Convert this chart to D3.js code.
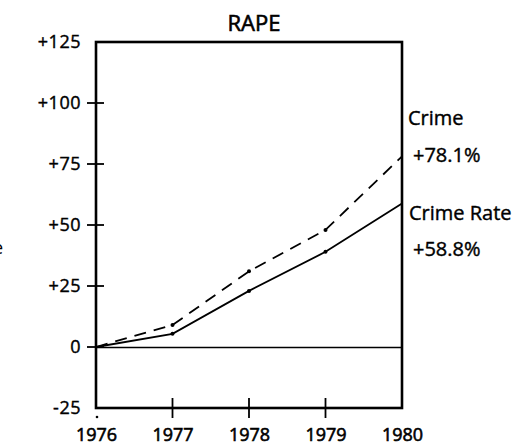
<!DOCTYPE html>
<html><head><meta charset="utf-8">
<script src="https://cdn.jsdelivr.net/npm/d3@7"></script>
<style>html,body{margin:0;padding:0;background:#fff;} svg{display:block;}</style>
</head><body>
<svg id="c" width="524" height="445"></svg>
<script>
const years = [1976, 1977, 1978, 1979, 1980];
const crime = [0, 9, 31, 48, 78.1];
const crimeRate = [0, 5.4, 23, 39, 58.8];
const yTicks = [-25, 0, 25, 50, 75, 100, 125];
const yTickLabels = ["-25", "0", "+25", "+50", "+75", "+100", "+125"];
const title = "RAPE";
const seriesNames = ["Crime", "Crime Rate"];
const endLabels = ["+78.1%", "+58.8%"];

const svg = d3.select("#c");
const font = "'Open Sans', Lato, sans-serif";
const L = 96, R = 402, T = 42, B = 408;
const x = d3.scaleLinear().domain([1976, 1980]).range([L, R]);
const y = d3.scaleLinear().domain([-25, 125]).range([B, T]);

function heavy(sel, w) { return sel.attr("font-weight", 400).attr("stroke", "#000").attr("stroke-width", w).attr("fill", "#000"); }

// title
heavy(svg.append("text").attr("x", 254).attr("y", 31).attr("text-anchor", "middle")
  .attr("font-family", font).attr("font-size", 22), 0.6).text(title);

// zero line
svg.append("line").attr("x1", L).attr("x2", R).attr("y1", Math.round(y(0)) + 0.5).attr("y2", Math.round(y(0)) + 0.5)
  .attr("stroke", "#000").attr("stroke-width", 1.6);

// frame
svg.append("rect").attr("x", L).attr("y", T).attr("width", R - L).attr("height", B - T)
  .attr("fill", "none").attr("stroke", "#000").attr("stroke-width", 2.6);

// y axis
const yAxis = d3.axisLeft(y).tickValues(yTicks).tickSize(0).tickFormat((d, i) => yTickLabels[i]);
const ya = svg.append("g").attr("transform", `translate(${L},0)`).call(yAxis);
ya.select(".domain").remove();
heavy(ya.selectAll("text").attr("x", -15).attr("font-family", font).attr("font-size", 18)
  .attr("letter-spacing", 0.5), 0.4);
svg.selectAll(".ytick").data(yTicks.filter(d => d > -25 && d < 125)).enter().append("line")
  .attr("x1", L - 9).attr("x2", L + 8).attr("y1", d => y(d)).attr("y2", d => y(d))
  .attr("stroke", "#000").attr("stroke-width", 1.8);

// x axis
const xAxis = d3.axisBottom(x).tickValues(years).tickSize(0).tickFormat(d3.format("d"));
const xa = svg.append("g").attr("transform", `translate(0,${B})`).call(xAxis);
xa.select(".domain").remove();
heavy(xa.selectAll("text").attr("y", 33).attr("dy", 0).attr("font-family", font).attr("font-size", 18), 0.6);
svg.selectAll(".xtick").data(years.slice(1, 4)).enter().append("line")
  .attr("x1", d => x(d)).attr("x2", d => x(d)).attr("y1", B - 10).attr("y2", B + 10)
  .attr("stroke", "#000").attr("stroke-width", 1.8);
svg.append("circle").attr("cx", x(1976) + 1).attr("cy", B + 9).attr("r", 1.3).attr("fill", "#000");

// lines
const line = d3.line().x((d, i) => x(years[i])).y(d => y(d));
svg.append("path").datum(crime).attr("d", line).attr("fill", "none")
  .attr("stroke", "#000").attr("stroke-width", 1.8).attr("stroke-dasharray", "12,8");
svg.append("path").datum(crimeRate).attr("d", line).attr("fill", "none")
  .attr("stroke", "#000").attr("stroke-width", 1.8);
[crime, crimeRate].forEach(s => {
  svg.selectAll(null).data(s.slice(1, 4)).enter().append("circle")
    .attr("cx", (d, i) => x(years[i + 1])).attr("cy", d => y(d)).attr("r", 2).attr("fill", "#000");
});

// right labels
const lbl = [[408, 125, seriesNames[0]], [413, 162, endLabels[0]], [409, 220, seriesNames[1]], [413, 256, endLabels[1]]];
heavy(svg.selectAll(".rl").data(lbl).enter().append("text")
  .attr("x", d => d[0]).attr("y", d => d[1]).attr("font-family", font).attr("font-size", 20), 0.4)
  .text(d => d[2]);

// clipped fragment at left edge (as in reference)
svg.append("text").attr("x", -7).attr("y", 254).attr("font-family", font).attr("font-size", 18).text("e");
</script>
</body></html>
